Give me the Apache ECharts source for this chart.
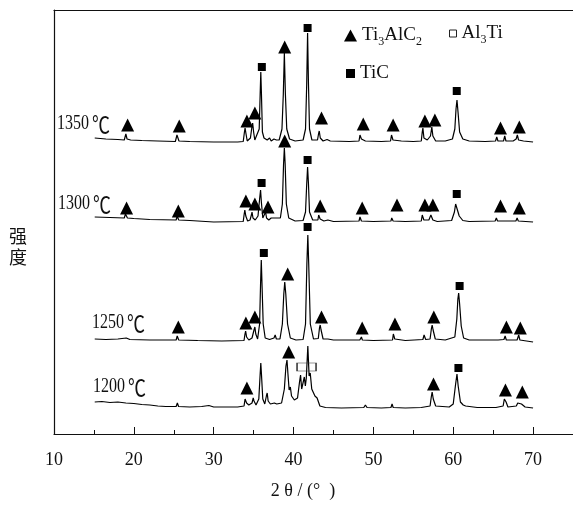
<!DOCTYPE html>
<html>
<head>
<meta charset="utf-8">
<script src="https://cdn.jsdelivr.net/npm/echarts@6/dist/echarts.min.js"></script>
<style>
  html, body { margin: 0; padding: 0; background: #fff; }
  #xrd { width: 573px; height: 510px; }
</style>
</head>
<body>
<div id="xrd"></div>
<script>
  // 2θ tick labels
  var xTicks = [10, 20, 30, 40, 50, 60, 70];
  var tempLabels = ["1350", "1300", "1250", "1200"];

  // 强度 (a.u., curves already stacked) vs 2θ
  var curve1350 = [[15.1,296],[16.5,295],[18,294.5],[18.8,294],[19.0,300],[19.05,301],[19.15,295],[19.6,294],[21,293.5],[23,293],[25.2,292.5],[25.4,299],[25.5,300],[25.65,293],[27,292.5],[30,292],[33,292],[33.7,292.5],[33.85,302],[33.93,306],[34.05,300],[34.2,293],[34.35,294],[34.6,296],[34.8,308],[34.88,311],[35.0,302],[35.15,294],[35.4,295],[35.7,305],[35.82,340],[35.9,362],[35.98,340],[36.1,302],[36.3,296],[36.5,298],[36.7,294],[37.0,296],[37.2,293],[37.55,295],[37.7,297],[37.85,294],[38.2,294],[38.55,305],[38.72,340],[38.85,381],[38.98,340],[39.15,305],[39.5,295],[40.2,293],[41.2,294],[41.5,305],[41.65,350],[41.76,401],[41.87,350],[42.0,305],[42.3,294],[43.0,294],[43.13,300],[43.22,303],[43.35,296],[43.7,293],[44.2,294.5],[44.6,293],[47,292.5],[48.2,293],[48.32,299],[48.4,301],[48.5,295],[49,293],[51,292.5],[52.15,293],[52.27,299],[52.35,301],[52.45,294],[53.5,293],[55,292.5],[56.0,293],[56.12,302],[56.2,306],[56.33,296],[56.75,294],[57.15,298],[57.32,307],[57.45,298],[57.8,293],[59,293],[59.9,295],[60.2,305],[60.35,325],[60.47,334],[60.6,322],[60.8,302],[61.2,295],[62,293],[64,292.5],[65.3,293],[65.45,297],[65.6,293],[66.3,293],[66.45,298],[66.6,293],[67.5,293],[67.88,295],[68.03,299],[68.18,294],[68.8,293],[70,292]];
  var curve1300 = [[15.1,217],[17,216.5],[18.8,216],[18.95,220],[19.05,221],[19.2,216],[20,215.5],[22,214.5],[25.3,214],[25.42,218],[25.5,219],[25.62,214],[27,213.5],[30,212],[33.7,212.5],[33.82,220],[33.9,224],[34.02,218],[34.25,213],[34.55,214],[34.72,219],[34.8,222],[34.92,216],[35.2,214],[35.55,218],[35.75,235],[35.87,244],[35.97,232],[36.15,216],[36.35,217],[36.5,222],[36.62,216],[36.9,214],[37.2,216],[37.4,214],[37.7,216],[37.9,214],[38.35,216],[38.6,230],[38.75,270],[38.85,286],[38.95,270],[39.1,230],[39.4,216],[40.2,213],[41.2,213.5],[41.5,222],[41.65,250],[41.76,267],[41.87,250],[42.0,222],[42.4,214],[43.05,214],[43.15,219],[43.21,221],[43.33,215],[43.8,213],[44.3,214],[45,212.5],[48.2,213],[48.32,217],[48.39,218],[48.5,213],[50,212.5],[52.2,213],[52.3,216],[52.37,217],[52.47,213],[54,212.5],[56.0,213],[56.12,219],[56.2,221],[56.32,214],[56.95,214],[57.2,219],[57.32,221],[57.45,214],[58,212.5],[59.8,213.5],[60.15,222],[60.3,230],[60.42,232],[60.55,228],[60.75,218],[61.2,213.5],[62,212.5],[65.25,213],[65.4,216],[65.55,213],[66.35,213],[66.45,215],[66.58,213],[67.85,213],[68.0,216],[68.15,213],[70,212]];
  var curve1250 = [[15.1,95],[16.5,94.5],[18,95],[19.05,96],[19.5,94.5],[22,94],[25.3,94],[25.43,98],[25.5,99],[25.62,94],[28,93.5],[31,93],[33.8,93.5],[33.92,100],[34.0,103],[34.12,97],[34.4,94],[34.8,96],[35.05,104],[35.16,107],[35.27,100],[35.5,95],[35.75,110],[35.87,150],[35.96,174],[36.05,150],[36.2,110],[36.45,96],[37.0,94.5],[37.55,96],[37.7,99],[37.85,95],[38.3,95],[38.6,110],[38.78,140],[38.9,152],[39.03,140],[39.25,110],[39.6,96],[40.3,94],[41.2,94.5],[41.5,110],[41.67,170],[41.79,199],[41.9,170],[42.1,110],[42.5,95],[43.1,95.5],[43.25,106],[43.34,109],[43.45,104],[43.7,95],[44.3,95],[45,94],[48.3,94],[48.42,96],[48.5,97],[48.62,94],[50,93.5],[52.4,94],[52.5,100],[52.55,102],[52.68,95],[54,93.5],[56.2,94.5],[56.35,99],[56.41,100],[56.55,94.5],[57.1,95],[57.26,105],[57.36,109],[57.48,104],[57.75,95],[59,94],[60.2,97],[60.45,115],[60.58,135],[60.68,141],[60.8,130],[61.0,108],[61.3,96],[62,94],[65.35,94],[65.5,96],[65.62,94],[66.35,94.5],[66.5,98],[66.65,94],[68.0,94],[68.2,99],[68.35,94],[70,92]];
  var curve1200 = [[15.1,32],[16,32.5],[17,31.5],[18,32],[19,31],[20,30.5],[21,29.5],[22,29],[23,28],[24,27.5],[25.3,27.5],[25.45,31],[25.6,27.5],[27,27],[28.5,27.5],[29.4,28.5],[30,27],[31.5,27],[33,27],[33.8,28],[33.93,35],[34.0,37],[34.12,31],[34.4,29],[34.8,31],[34.95,36],[35.05,33],[35.3,29],[35.65,35],[35.82,60],[35.9,71],[35.98,60],[36.15,35],[36.4,30],[36.6,38],[36.7,41],[36.82,33],[37.1,30],[37.6,31],[37.73,33],[37.9,30],[38.5,31],[38.85,45],[39.05,68],[39.18,74],[39.3,60],[39.45,44],[39.6,47],[39.75,38],[40.1,34],[40.5,36],[40.75,52],[40.88,59],[41.02,45],[41.2,44],[41.35,57],[41.48,48],[41.6,56],[41.79,88],[41.95,58],[42.09,61],[42.28,45],[42.5,47],[42.68,38],[42.95,36],[43.12,34],[43.3,28],[44,26.5],[46,26],[48.8,26.5],[49.0,29],[49.2,26.5],[51,26],[52.2,26.5],[52.34,30],[52.48,26.5],[54,26],[56,26.5],[57.1,28],[57.25,37],[57.36,42],[57.5,35],[57.8,28],[59.5,27],[60.0,30],[60.3,50],[60.47,60],[60.62,48],[60.9,32],[61.25,29],[61.39,31],[61.55,28],[63,26.5],[65.35,26.5],[65.5,28],[65.65,27],[66.25,28],[66.4,35],[66.5,37],[66.62,32],[66.85,27],[67.9,28],[68.08,31],[68.3,29],[68.55,30],[68.7,29],[69.0,27],[70,26]];

  // phase markers [2θ, height]
  var ti3alc2Marks = [
    [19.22,309],[25.69,308],[34.16,313],[35.16,321],[38.89,387],[43.5,316],[48.73,310],[52.47,309],[56.45,313],[57.7,314],[65.92,306],[68.28,307],
    [19.09,226],[25.57,223],[34.03,233],[35.16,230],[36.8,227],[38.89,293],[43.34,228],[48.6,226],[52.96,229],[56.45,229],[57.45,229],[65.92,228],[68.28,226],
    [25.57,107],[34.03,111],[35.16,117],[39.27,160],[43.5,117],[48.6,106],[52.7,110],[57.57,117],[66.66,107],[68.4,106],
    [34.16,46],[39.39,82],[57.53,50],[66.54,44],[68.65,42]
  ];
  var ticMarks = [
    [36.03,367],[41.76,406],[60.44,343],
    [36.0,251],[41.76,274],[60.44,240],
    [36.28,181],[41.76,207],[60.8,148],
    [60.65,66]
  ];
  var al3tiMarks = [[41.63,67]];

  var serif = "Liberation Serif, Times New Roman, serif";

  function init() {
    var myChart = echarts.init(document.getElementById("xrd"));

    var legendRich = {
      n: { fontSize: 19, lineHeight: 24, fontFamily: serif, color: "#111" },
      s: { fontSize: 12, lineHeight: 10, fontFamily: serif, color: "#111", verticalAlign: "bottom" }
    };
    var legendText = {
      Ti3AlC2: "{n|Ti}{s|3}{n|AlC}{s|2}",
      Al3Ti: "{n|Al}{s|3}{n|Ti}",
      TiC: "{n|TiC}"
    };
    function fmt(name) { return legendText[name]; }

    var tempPos = [[57, 124], [58, 204], [92, 323], [93, 387]];
    var graphics = tempLabels.map(function (t, i) {
      return {
        type: "text", x: tempPos[i][0], y: tempPos[i][1], scaleY: 1.25,
        style: {
          text: "{d|" + t + "}{c|℃}", verticalAlign: "middle",
          rich: {
            d: { fontSize: 16, fontFamily: serif, fill: "#111", color: "#111" },
            c: { fontSize: 18, fontFamily: "'Noto Sans CJK SC'", fill: "#111", color: "#111", padding: [0, 0, 0, 3] }
          }
        }
      };
    });
    graphics.push({
      type: "text", x: 303, y: 491,
      style: { text: "2 θ / (°  )", font: "18px " + serif, fill: "#111", align: "center", verticalAlign: "middle" }
    });
    graphics.push({
      type: "text", x: 18, y: 247,
      style: { text: "强\n度", font: "18px 'Noto Sans CJK SC'", fill: "#111", align: "center", verticalAlign: "middle", lineHeight: 21 }
    });

    var lineStyle = { color: "#000", width: 1.2 };

    var option = {
      animation: false,
      backgroundColor: "#fff",
      grid: { left: 54, top: 10, width: 522, height: 424 },
      legend: [
        { data: [{ name: "Ti3AlC2", icon: "triangle" }], left: 339, top: 21, itemWidth: 13, itemHeight: 12,
          selectedMode: false, formatter: fmt, textStyle: { rich: legendRich } },
        { data: [{ name: "Al3Ti", icon: "rect", itemStyle: { color: "#fff", borderColor: "#222", borderWidth: 1 } }],
          left: 444, top: 19, itemWidth: 7, itemHeight: 7,
          selectedMode: false, formatter: fmt, textStyle: { rich: legendRich } },
        { data: [{ name: "TiC", icon: "rect" }], left: 341, top: 59, itemWidth: 9, itemHeight: 9,
          selectedMode: false, formatter: fmt, textStyle: { rich: legendRich } }
      ],
      xAxis: [
        {
          type: "value", min: 10, max: 75, interval: 10,
          axisLine: { lineStyle: { color: "#111", width: 1.2 } },
          axisTick: { inside: true, length: 7, lineStyle: { color: "#111" } },
          minorTick: { show: true, splitNumber: 2, length: 4, lineStyle: { color: "#111" } },
          splitLine: { show: false },
          axisLabel: {
            margin: 17, fontSize: 18, fontFamily: serif, color: "#111", showMaxLabel: false,
            formatter: function (v) { return xTicks.indexOf(v) >= 0 ? String(v) : ""; }
          }
        },
        {
          type: "value", position: "top", min: 10, max: 75,
          axisLine: { show: true, lineStyle: { color: "#111", width: 1.2 } },
          axisTick: { show: false }, axisLabel: { show: false }, splitLine: { show: false }
        }
      ],
      yAxis: {
        type: "value", min: 0, max: 424,
        axisLine: { show: true, lineStyle: { color: "#111", width: 1.2 } },
        axisTick: { show: false }, axisLabel: { show: false }, splitLine: { show: false }
      },
      graphic: graphics,
      series: [
        { type: "line", name: "1350", data: curve1350, symbol: "none", lineStyle: lineStyle, silent: true },
        { type: "line", name: "1300", data: curve1300, symbol: "none", lineStyle: lineStyle, silent: true },
        { type: "line", name: "1250", data: curve1250, symbol: "none", lineStyle: lineStyle, silent: true },
        { type: "line", name: "1200", data: curve1200, symbol: "none", lineStyle: lineStyle, silent: true },
        { type: "scatter", name: "Ti3AlC2", data: ti3alc2Marks, symbol: "triangle", symbolSize: 13,
          itemStyle: { color: "#000", opacity: 1 }, z: 5 },
        { type: "scatter", name: "Al3Ti", data: al3tiMarks, symbol: "rect", symbolSize: [19, 8],
          itemStyle: { color: "rgba(0,0,0,0)", borderColor: "#333", borderWidth: 1, opacity: 1 }, z: 5 },
        { type: "scatter", name: "TiC", data: ticMarks, symbol: "rect", symbolSize: 8,
          itemStyle: { color: "#000", opacity: 1 }, z: 5 }
      ]
    };

    myChart.setOption(option);
  }

  init();
</script>
</body>
</html>
